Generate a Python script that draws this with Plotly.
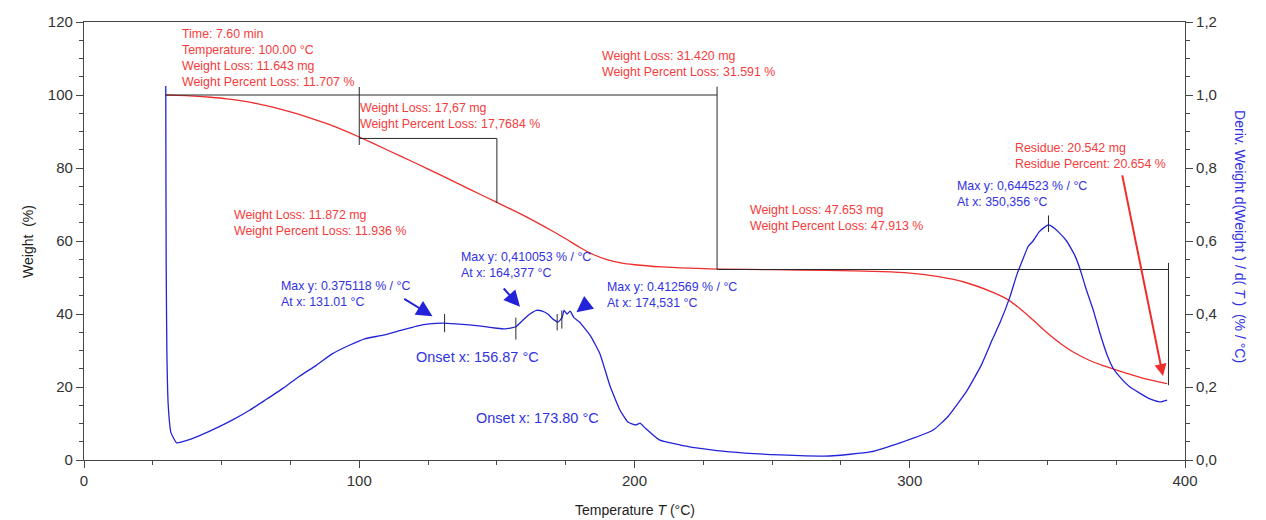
import plotly.graph_objects as go

# ---------------- data ----------------
# Weight (%) vs temperature (°C)
temp_w = [29.7, 34, 40, 46, 52, 58, 64, 70, 76, 82, 88, 94, 100, 110, 120, 130, 140, 150, 160, 170,
          175, 180, 185, 190, 195, 200, 210, 220, 230, 250, 270, 290, 300, 310, 320, 330, 335, 340,
          345, 350, 355, 360, 365, 370, 376, 384, 393.5]
weight = [100.0, 99.9, 99.7, 99.38, 98.95, 98.3, 97.45, 96.4, 95.15, 93.75, 92.2, 90.45, 88.5,
          85.0, 81.5, 77.9, 74.2, 70.6, 66.9, 62.8, 60.6, 58.3, 56.3, 54.9, 54.0, 53.5, 52.9, 52.55,
          52.3, 52.15, 51.95, 51.6, 51.2, 50.3, 48.7, 46.0, 44.2, 41.5, 38.2, 34.8, 31.8, 29.3, 27.4,
          25.9, 24.4, 22.6, 20.9]

# Derivative weight (% / °C) vs temperature (°C)
temp_d = [29.7, 29.75, 29.85, 30.1, 30.6, 31.6, 33.7, 38, 43, 48.2, 54, 60.3, 66, 72.4, 78, 84.5,
          90, 96.6, 102, 108.7, 115, 120.9, 125.5, 130.5, 135, 140, 145, 150, 153, 156.9, 160, 162,
          164.4, 166.5, 168.5, 170.4, 172.2, 173.7, 174.4, 175.5, 176.6, 178, 180, 184, 187.5, 191,
          194.7, 197.6, 200.5, 202, 203.8, 209, 220, 234.7, 252.9, 271, 285.6, 296.5, 308.5, 314,
          320.8, 326, 330, 333, 336.4, 339, 341, 343, 344.8, 347, 349, 350.4, 352, 354, 357, 360,
          362, 364, 366.7, 369, 371.6, 374, 376.4, 380, 383.6, 387, 391, 393.5]
deriv = [1.025, 0.85, 0.55, 0.30, 0.15, 0.075, 0.047, 0.055, 0.070, 0.088, 0.110, 0.137, 0.165,
         0.197, 0.228, 0.26, 0.29, 0.315, 0.332, 0.342, 0.355, 0.367, 0.373, 0.375, 0.373, 0.370,
         0.366, 0.361, 0.359, 0.365, 0.387, 0.400, 0.410, 0.408, 0.400, 0.386, 0.378, 0.39, 0.41,
         0.40, 0.408, 0.39, 0.378, 0.34, 0.29, 0.205, 0.137, 0.104, 0.096, 0.101, 0.088, 0.055,
         0.036, 0.022, 0.014, 0.011, 0.022, 0.047, 0.082, 0.12, 0.19, 0.26, 0.33, 0.38, 0.447,
         0.51, 0.548, 0.585, 0.60, 0.625, 0.638, 0.644, 0.638, 0.625, 0.60, 0.56, 0.52, 0.47,
         0.41, 0.35, 0.29, 0.25, 0.227, 0.20, 0.183, 0.168, 0.159, 0.164]

x_ticks = [0, 100, 200, 300, 400]
y_ticks = [0, 20, 40, 60, 80, 100, 120]
y2_ticks = [0.0, 0.2, 0.4, 0.6, 0.8, 1.0, 1.2]
y2_ticktext = ["0,0", "0,2", "0,4", "0,6", "0,8", "1,0", "1,2"]

RED = "rgb(238,45,45)"
RED_TXT = "rgb(245,60,60)"
BLUE = "rgb(35,35,215)"
BLUE_TXT = "rgb(50,50,225)"
BLACK = "rgb(40,40,40)"
FONT = "Liberation Sans, Arial, sans-serif"

fig = go.Figure()
fig.add_trace(go.Scatter(x=temp_d, y=deriv, mode="lines", yaxis="y2",
                         line=dict(color=BLUE, width=1.3, shape="spline", smoothing=0.4),
                         showlegend=False))
fig.add_trace(go.Scatter(x=temp_w, y=weight, mode="lines",
                         line=dict(color=RED, width=1.3, shape="spline", smoothing=0.6),
                         showlegend=False))

# ---- step / analysis lines (black) ----
def seg(x0, y0, x1, y1, yref="y"):
    fig.add_shape(type="line", xref="x", yref=yref, x0=x0, y0=y0, x1=x1, y1=y1,
                  line=dict(color=BLACK, width=1))

seg(29.7, 100, 230, 100)
seg(100, 102.2, 100, 86.3)
seg(100, 88.1, 150, 88.1)
seg(150, 88.1, 150, 70.4)
seg(230, 102.3, 230, 52.3)
seg(230, 52.2, 394, 52.2)
seg(394, 54.0, 394, 20.5)
# peak / onset markers on derivative curve
seg(131, 0.40, 131, 0.35, "y2")
seg(156.9, 0.39, 156.9, 0.33, "y2")
seg(171.9, 0.40, 171.9, 0.355, "y2")
seg(173.6, 0.41, 173.6, 0.36, "y2")
seg(350.4, 0.67, 350.4, 0.625, "y2")

# ---- text annotations ----
def txt(x, y, text, color, size=12.4, yref="y"):
    fig.add_annotation(x=x, y=y, xref="x", yref=yref, text=text, showarrow=False,
                       xanchor="left", yanchor="middle", align="left",
                       font=dict(family=FONT, size=size, color=color))

txt(34.9, 110.1, "Time: 7.60 min<br>Temperature: 100.00 °C<br>Weight Loss: 11.643 mg<br>Weight Percent Loss: 11.707 %", RED_TXT)
txt(99.5, 94.2, "Weight Loss: 17,67 mg<br>Weight Percent Loss: 17,7684 %", RED_TXT)
txt(187.5, 108.6, "Weight Loss: 31.420 mg<br>Weight Percent Loss: 31.591 %", RED_TXT)
txt(53.8, 64.9, "Weight Loss: 11.872 mg<br>Weight Percent Loss: 11.936 %", RED_TXT)
txt(241.2, 66.3, "Weight Loss: 47.653 mg<br>Weight Percent Loss: 47.913 %", RED_TXT)
txt(337.5, 83.3, "Residue: 20.542 mg<br>Residue Percent: 20.654 %", RED_TXT)

txt(316.4, 0.729, "Max y: 0,644523 % / °C<br>At x: 350,356 °C", BLUE_TXT, yref="y2")
txt(70.8, 0.455, "Max y: 0.375118 % / °C<br>At x: 131.01 °C", BLUE_TXT, yref="y2")
txt(136.2, 0.533, "Max y: 0,410053 % / °C<br>At x: 164,377 °C", BLUE_TXT, yref="y2")
txt(189.3, 0.452, "Max y: 0.412569 % / °C<br>At x: 174,531 °C", BLUE_TXT, yref="y2")
txt(119.9, 0.282, "Onset x: 156.87 °C", BLUE_TXT, size=14.5, yref="y2")
txt(141.7, 0.115, "Onset x: 173.80 °C", BLUE_TXT, size=14.5, yref="y2")

# ---- arrows ----
def arrow(x0, y0, x1, y1, color, yref, size=1.6, width=2):
    fig.add_annotation(x=x1, y=y1, ax=x0, ay=y0, xref="x", yref=yref, axref="x", ayref=yref,
                       text="", showarrow=True, arrowhead=2, arrowsize=size, arrowwidth=width,
                       arrowcolor=color)

arrow(115.8, 0.444, 126.6, 0.394, BLUE, "y2")
arrow(152.0, 0.474, 158.4, 0.420, BLUE, "y2")
arrow(183.5, 0.432, 178.9, 0.405, BLUE, "y2")
arrow(377.1, 78.4, 392.0, 23.0, RED, "y", size=1.2, width=2)

# ---- axis titles as annotations ----
fig.add_annotation(x=-0.06, y=0.5, xref="paper", yref="paper", text="Weight  (%)", textangle=-90,
                   showarrow=False, font=dict(family=FONT, size=14, color="rgb(30,30,30)"))
fig.add_annotation(x=0.5, y=-0.114, xref="paper", yref="paper", text="Temperature <i>T</i> (°C)",
                   showarrow=False, yanchor="middle", font=dict(family=FONT, size=14, color="rgb(30,30,30)"))
fig.add_annotation(x=1.059, y=0.509, xref="paper", yref="paper",
                   text="Deriv. Weight d(Weight ) / d( <i>T</i> )  (% / °C)", textangle=90,
                   showarrow=False, font=dict(family=FONT, size=14, color=BLUE_TXT))

axis_common = dict(showline=True, linecolor="rgb(70,70,70)", linewidth=1.2, ticks="outside",
                   tickcolor="rgb(70,70,70)", ticklen=7, showgrid=False, zeroline=False,
                   tickfont=dict(family=FONT, size=15, color="rgb(50,50,50)"))

fig.update_layout(
    width=1266, height=520,
    margin=dict(l=84, r=81, t=22, b=60),
    paper_bgcolor="white", plot_bgcolor="white",
    xaxis=dict(range=[0, 400], tickvals=x_ticks, mirror=True,
               minor=dict(dtick=25, ticks="outside", ticklen=4, tickcolor="rgb(70,70,70)"),
               **axis_common),
    yaxis=dict(range=[0, 120], tickvals=y_ticks,
               minor=dict(dtick=5, ticks="outside", ticklen=4, tickcolor="rgb(70,70,70)"),
               **axis_common),
    yaxis2=dict(range=[0, 1.2], tickvals=y2_ticks, ticktext=y2_ticktext, overlaying="y", side="right",
                minor=dict(dtick=0.05, ticks="outside", ticklen=4, tickcolor="rgb(70,70,70)"),
                **axis_common),
)

fig.write_html("out.html")
